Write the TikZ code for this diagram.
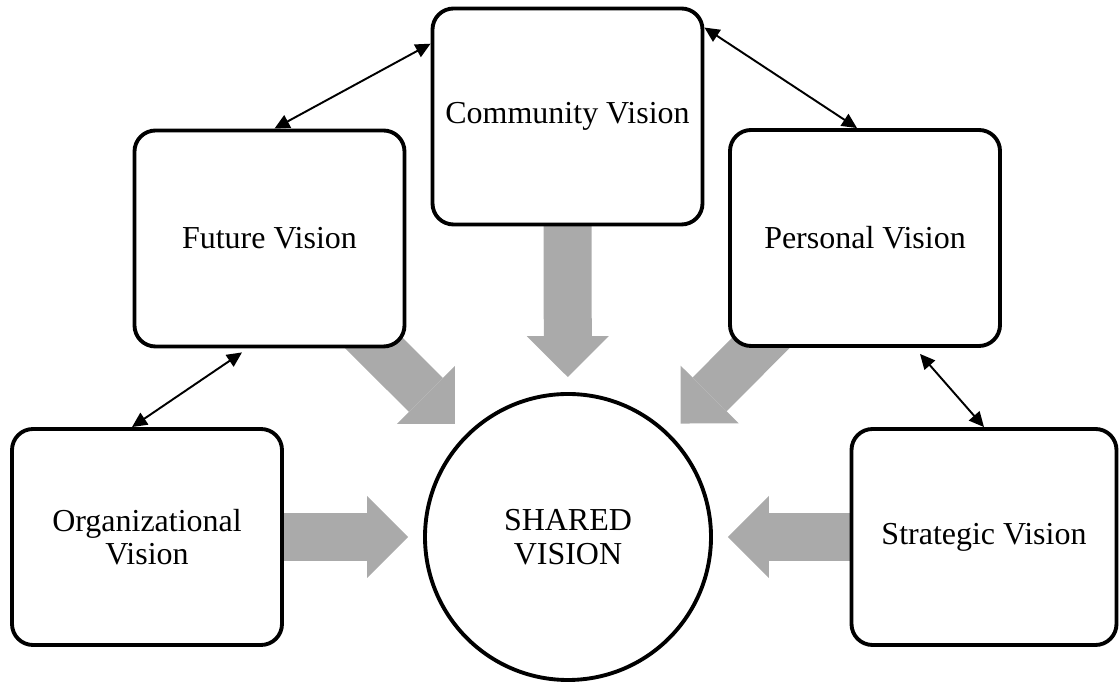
\documentclass[tikz,border=0pt]{standalone}
\usepackage{fontspec}
\setmainfont{Liberation Serif}
\usetikzlibrary{arrows.meta,backgrounds}
\definecolor{arrowgray}{RGB}{170,170,170}
\begin{document}
\begin{tikzpicture}[
  visbox/.style={draw,line width=2.2pt,rounded corners=0.42cm,fill=white,minimum width=5.4cm,minimum height=4.32cm,align=center,font=\fontsize{18.2}{19}\selectfont},
  bigarrow/.style={arrowgray,line width=0.96cm,-{Triangle[length=0.82cm,width=1.64cm,line width=0pt]},shorten >=0.3cm,shorten <=-0.6cm},
  link/.style={line width=1.1pt,{Triangle[length=0.3cm,width=0.28cm]}-{Triangle[length=0.3cm,width=0.28cm]}}]
\useasboundingbox (0,0) rectangle (22.4,13.66);
\node[visbox] (comm) at (11.35,11.33) {Community Vision};
\node[visbox] (fut) at (5.39,8.89) {Future Vision};
\node[visbox] (per) at (17.3,8.9) {Personal Vision};
\node[visbox] (org) at (2.94,2.92) {Organizational\\Vision};
\node[visbox,minimum width=5.3cm] (strat) at (19.68,2.92) {Strategic Vision};
\node[draw,circle,line width=2.2pt,fill=white,minimum size=5.72cm,align=center,font=\fontsize{18.2}{19.5}\selectfont] (shared) at (11.36,2.92) {SHARED\\VISION};
\begin{scope}[on background layer]
\draw[bigarrow] (comm) -- (shared);
\draw[bigarrow] (fut) -- (shared);
\draw[bigarrow] (per) -- (shared);
\draw[bigarrow] (org) -- (shared);
\draw[bigarrow] (strat) -- (shared);
\end{scope}
\draw[link] ([xshift=0.1cm]fut.north) -- (comm.152);
\draw[link] (comm.33) -- ([xshift=-0.16cm]per.north);
\draw[link] ([xshift=-0.3cm]org.north) -- ([xshift=-0.55cm,yshift=-0.08cm]fut.south);
\draw[link] ([xshift=1.1cm,yshift=-0.12cm]per.south) -- (strat.north);
\end{tikzpicture}
\end{document}
